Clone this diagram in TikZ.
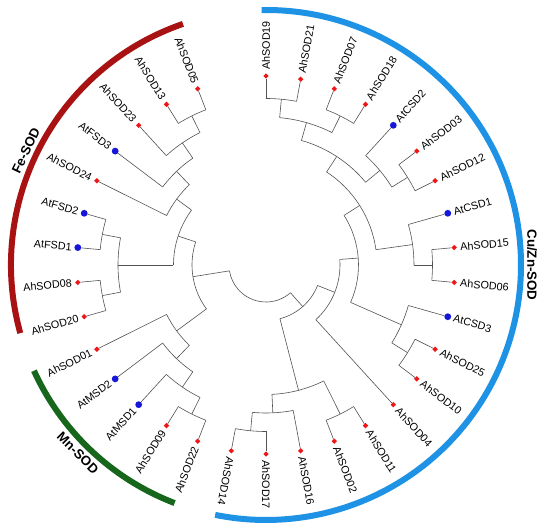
\documentclass[tikz,border=0pt]{standalone}
\usepackage{fontspec}
\setmainfont{Liberation Sans}
\usetikzlibrary{shapes.geometric,calc}

\definecolor{feRed}{RGB}{168,18,18}
\definecolor{cuBlue}{RGB}{30,146,228}
\definecolor{mnGreen}{RGB}{22,102,28}
\definecolor{ahRed}{RGB}{238,22,22}
\definecolor{atBlue}{RGB}{22,22,218}

% angle of each tree node, kept by name
\newcommand\setang[2]{\expandafter\xdef\csname angX#1\endcsname{#2}}
\newcommand\ang[1]{\csname angX#1\endcsname}

% join two children at a given level (1 = next to the tips)
\newcommand\clade[4]{%
  \pgfmathsetmacro\ra{185-18.5*#4}
  \pgfmathsetmacro\aone{\ang{#2}}
  \pgfmathsetmacro\atwo{\ang{#3}}
  \pgfmathsetmacro\amid{(\aone+\atwo)/2}
  \setang{#1}{\amid}
  \draw[branch] (\aone:\ra) arc[start angle=\aone, end angle=\atwo, radius=\ra pt];
  \draw[branch] (#2) -- (\aone:\ra);
  \draw[branch] (#3) -- (\atwo:\ra);
  \coordinate (#1) at (\amid:\ra);
}

\begin{document}
\begin{tikzpicture}[x=1pt, y=1pt,
    branch/.style={draw=black!68, line width=0.6pt},
    ahmark/.style={diamond, fill=ahRed, inner sep=0pt, minimum size=5.6pt},
    atmark/.style={circle, fill=atBlue, inner sep=0pt, minimum size=6.8pt},
    leaf/.style={inner sep=0pt, font=\fontsize{10.8}{12}\selectfont},
    group arc/.style={line width=6pt},
    group label/.style={inner sep=0pt, font=\fontsize{13.3}{15}\selectfont\bfseries}]
  \useasboundingbox (-266,-265) rectangle (284,265);

  % tips, clockwise from the top
  \foreach \nm/\txt/\mk [count=\i from 0] in {
      s19/AhSOD19/ahmark, s21/AhSOD21/ahmark, s07/AhSOD07/ahmark,
      s18/AhSOD18/ahmark, csd2/AtCSD2/atmark, s03/AhSOD03/ahmark,
      s12/AhSOD12/ahmark, csd1/AtCSD1/atmark, s15/AhSOD15/ahmark,
      s06/AhSOD06/ahmark, csd3/AtCSD3/atmark, s25/AhSOD25/ahmark,
      s10/AhSOD10/ahmark, s04/AhSOD04/ahmark, s11/AhSOD11/ahmark,
      s02/AhSOD02/ahmark, s16/AhSOD16/ahmark, s17/AhSOD17/ahmark,
      s14/AhSOD14/ahmark, s22/AhSOD22/ahmark, s09/AhSOD09/ahmark,
      msd1/AtMSD1/atmark, msd2/AtMSD2/atmark, s01/AhSOD01/ahmark,
      s20/AhSOD20/ahmark, s08/AhSOD08/ahmark, fsd1/AtFSD1/atmark,
      fsd2/AtFSD2/atmark, s24/AhSOD24/ahmark, fsd3/AtFSD3/atmark,
      s23/AhSOD23/ahmark, s13/AhSOD13/ahmark, s05/AhSOD05/ahmark} {
    \pgfmathsetmacro\a{90-\i*360/34}
    \setang{\nm}{\a}
    \node[\mk] (\nm) at (\a:189) {};
    \ifnum\i<19
      \node[leaf, anchor=west, rotate=\a] (t\nm) at (\a:195) {\txt};
    \else
      \node[leaf, anchor=east, rotate=\a+180] (t\nm) at (\a:195) {\txt};
    \fi
  }

  % Cu/Zn branch
  \clade{c1921}{s19}{s21}{1}
  \clade{c0718}{s07}{s18}{1}
  \clade{cA}{c1921}{c0718}{2}
  \clade{c0312}{s03}{s12}{1}
  \clade{cC}{csd2}{c0312}{2}
  \clade{cB}{cA}{cC}{3}
  \clade{c1506}{s15}{s06}{1}
  \clade{cG}{csd1}{c1506}{2}
  \clade{cE}{cB}{cG}{4}
  \clade{c2510}{s25}{s10}{1}
  \clade{cI}{csd3}{c2510}{2}
  \clade{cH}{cE}{cI}{5}
  \clade{cJ}{cH}{s04}{6}
  \clade{c1102}{s11}{s02}{1}
  \clade{c1714}{s17}{s14}{1}
  \clade{cU}{s16}{c1714}{2}
  \clade{cV}{c1102}{cU}{3}
  \clade{cK}{cJ}{cV}{7}
  % Mn branch
  \clade{c2209}{s22}{s09}{1}
  \clade{cR}{msd1}{c2209}{2}
  \clade{cQ}{msd2}{cR}{3}
  \clade{cP}{s01}{cQ}{4}
  % Fe branch
  \clade{c2008}{s20}{s08}{1}
  \clade{cF}{fsd1}{fsd2}{1}
  \clade{cN}{c2008}{cF}{2}
  \clade{c0513}{s13}{s05}{1}
  \clade{cT}{s23}{c0513}{2}
  \clade{cS}{fsd3}{cT}{3}
  \clade{cW}{s24}{cS}{4}
  \clade{cO}{cN}{cW}{5}
  \clade{cM}{cP}{cO}{6}
  \clade{root}{cK}{cM}{8}

  % group arcs and names
  \draw[group arc, cuBlue] (91:255) arc[start angle=91, end angle=-101.5, radius=255pt];
  \draw[group arc, mnGreen] (-111:255) arc[start angle=-111, end angle=-155.5, radius=255pt];
  \draw[group arc, feRed] (109:255) arc[start angle=109, end angle=195.5, radius=255pt];
  \node[group label, rotate=-90] (cuzn) at (0:266) {Cu/Zn-SOD};
  \node[group label, rotate=64.5] (fe) at (154.5:266) {Fe-SOD};
  \node[group label, rotate=-45] (mn) at (225:266) {Mn-SOD};
\end{tikzpicture}
\end{document}
